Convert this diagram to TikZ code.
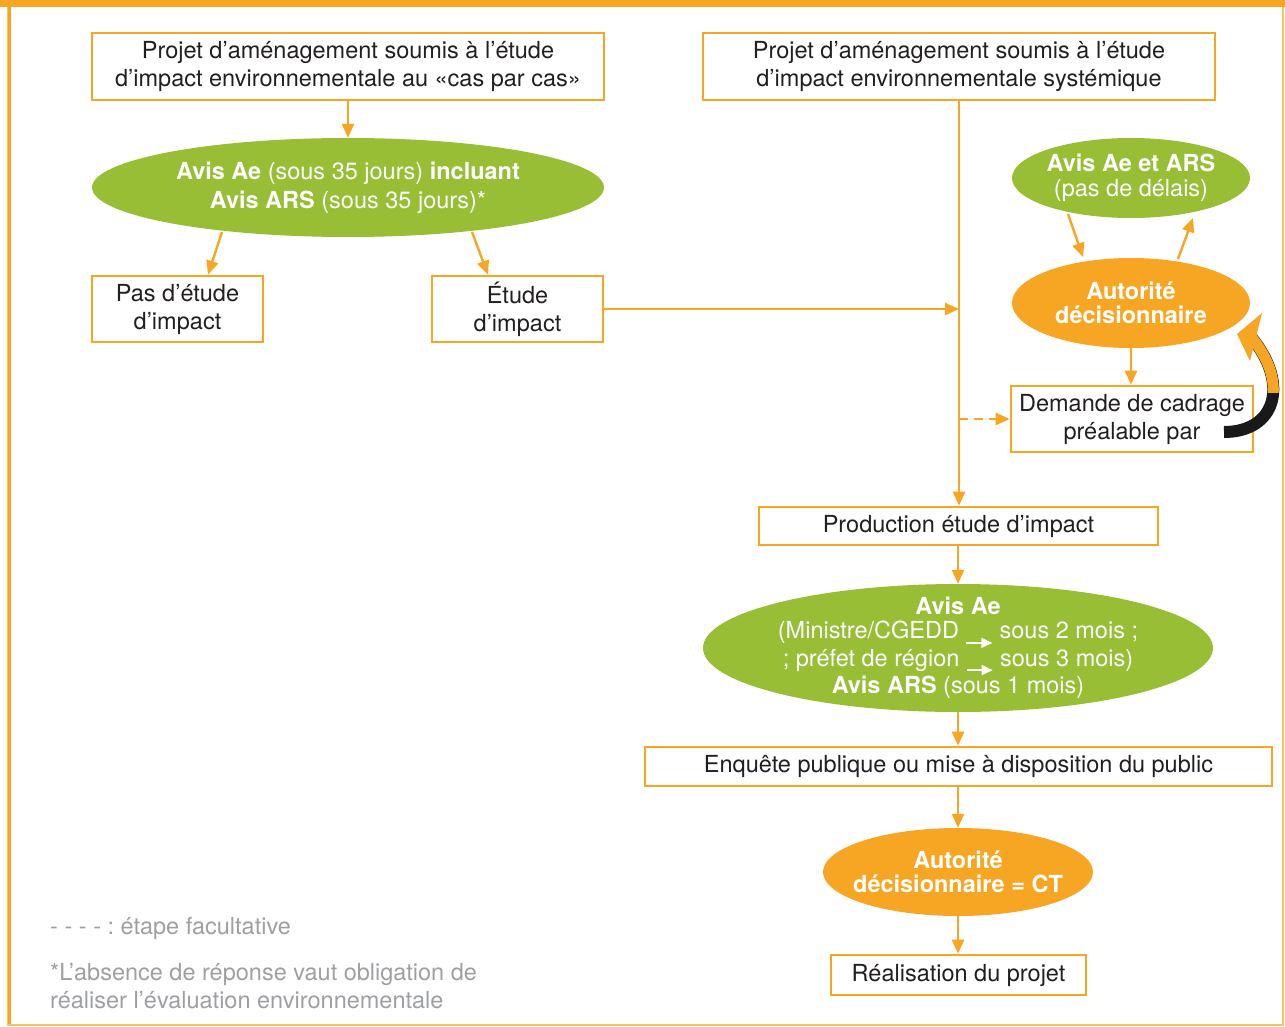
\documentclass[tikz,border=0pt]{standalone}
\usepackage{fontspec}
\setmainfont{TeX Gyre Heros}
\usetikzlibrary{arrows.meta,shapes.geometric}
\definecolor{org}{HTML}{F6A623}
\definecolor{grn}{HTML}{98BE36}
\definecolor{txt}{HTML}{231F20}
\definecolor{gry}{HTML}{9D9FA2}
\definecolor{frm}{HTML}{FBC25E}
\frenchspacing
\newcommand\smallarr{\tikz[baseline=0pt]\draw[white,line width=1.6pt,-{Triangle[length=11pt,width=10pt]}] (0pt,-4pt)--(26pt,-4pt);}
\tikzset{
  box/.style={draw=org,line width=2.6pt,fill=white,inner sep=0pt,align=center,text=txt,font=\fontsize{23.5}{28}\selectfont},
  gell/.style={ellipse,fill=grn,inner sep=0pt},
  oell/.style={ellipse,fill=org,inner sep=0pt},
  etxt/.style={align=center,text=white,inner sep=0pt},
  conn/.style={draw=org,line width=2.4pt,-{Triangle[length=14pt,width=12pt]}},
  legend/.style={anchor=west,inner sep=0pt,text=gry,align=left,font=\fontsize{23.5}{28}\selectfont\frenchspacing}
}
\begin{document}
\begin{tikzpicture}[x=1pt,y=-1pt]
\useasboundingbox (0,0) rectangle (1285,1027);
% frame
\draw[frm,line width=2pt] (8,4) rectangle (1283,1025);
\draw[org,line width=3pt] (9.5,0) -- (9.5,1024);
\fill[org] (0,0) rectangle (1285,7);

% left column
\node[box,minimum width=512,minimum height=67] (p1) at (348,66.5) {Projet d’aménagement soumis à l’étude\\d’impact environnementale au «cas par cas»};
\node[gell,minimum width=512,minimum height=99,
  label={[etxt,font=\fontsize{23.5}{29}\selectfont]center:\textbf{Avis Ae} (sous 35 jours) \textbf{incluant}\\\textbf{Avis ARS} (sous 35 jours)*}] (e1) at (348,187.5) {};
\node[box,minimum width=171,minimum height=66] (pas) at (177.5,309) {Pas d’étude\\d’impact};
\node[box,minimum width=171,minimum height=66] (etu) at (517.5,309) {Étude\\d’impact};

% right column
\node[box,minimum width=512,minimum height=67] (p2) at (959,66.5) {Projet d’aménagement soumis à l’étude\\d’impact environnementale systémique};
\node[gell,minimum width=238,minimum height=80,
  label={[etxt,font=\fontsize{23.5}{25}\selectfont]center:\textbf{Avis Ae et ARS}\\(pas de délais)}] (e2) at (1131,178) {};
\node[oell,minimum width=238,minimum height=90,
  label={[etxt,font=\fontsize{23.5}{24}\selectfont\bfseries]center:Autorité\\décisionnaire}] (aut) at (1131,303) {};
\node[box,minimum width=242,minimum height=66] (dem) at (1132,419) {Demande de cadrage\\préalable par};
\node[box,minimum width=399,minimum height=38] (prod) at (958.5,526) {Production étude d’impact};
\node[gell,minimum width=510,minimum height=128,
  label={[etxt,font=\fontsize{23.5}{24}\selectfont]center:\textbf{Avis Ae}\\(Ministre/CGEDD \smallarr{} sous 2 mois ;\\; préfet de région \smallarr{} sous 3 mois)\\\textbf{Avis ARS} (sous 1 mois)}] (e3) at (958,648) {};
\node[box,minimum width=627,minimum height=39] (enq) at (958.5,766.5) {Enquête publique ou mise à disposition du public};
\node[oell,minimum width=270,minimum height=88,
  label={[etxt,font=\fontsize{23.5}{24}\selectfont\bfseries]center:Autorité\\décisionnaire = CT}] (ct) at (958,872) {};
\node[box,minimum width=255,minimum height=40] (rea) at (958.5,975) {Réalisation du projet};

% legend
\node[legend] (lg1) at (50,928) {- - - - : étape facultative};
\node[legend] (lg2) at (50,986) {*L’absence de réponse vaut obligation de\\réaliser l’évaluation environnementale};

% connectors
\coordinate (j1) at (959,309);
\coordinate (j2) at (959,419);
\coordinate (a1) at (222,232);
\coordinate (a2) at (472,232);
\coordinate (u1) at (1068,214);
\coordinate (u2) at (1178,259);
\draw[conn] (p1.south) -- (e1.north);
\draw[conn] (a1) -- (pas.north -| 208,0);
\draw[conn] (a2) -- (etu.north -| 488,0);
\draw[conn] (p2.south) -- (prod.north -| p2.south);
\draw[conn] (etu.east) -- (j1);
\draw[conn,dash pattern=on 9pt off 6pt] (j2) -- (dem.west);
\draw[conn] (u1) -- (1083,257);
\draw[conn] (u2) -- (1193,218);
\draw[conn] (aut.south) -- (dem.north -| aut.south);
\draw[conn] (prod.south -| e3.north) -- (e3.north);
\draw[conn] (e3.south) -- (enq.north -| e3.south);
\draw[conn] (enq.south -| ct.north) -- (ct.north);
\draw[conn] (ct.south) -- (rea.north -| ct.south);

% curved arrow from Demande back to Autorité
\coordinate (cs) at (1224,432);
\coordinate (ce) at (1252,338);
\draw[black!90,line width=12pt] (cs) .. controls (1275,432) and (1290,385) .. (ce);
\begin{scope}
\clip (1200,300) rectangle (1285,392);
\draw[org,line width=11pt] (cs) .. controls (1275,432) and (1290,385) .. (ce);
\end{scope}
\fill[org] (1237,334) -- (1262,313) -- (1250,361) -- cycle;
\end{tikzpicture}
\end{document}
